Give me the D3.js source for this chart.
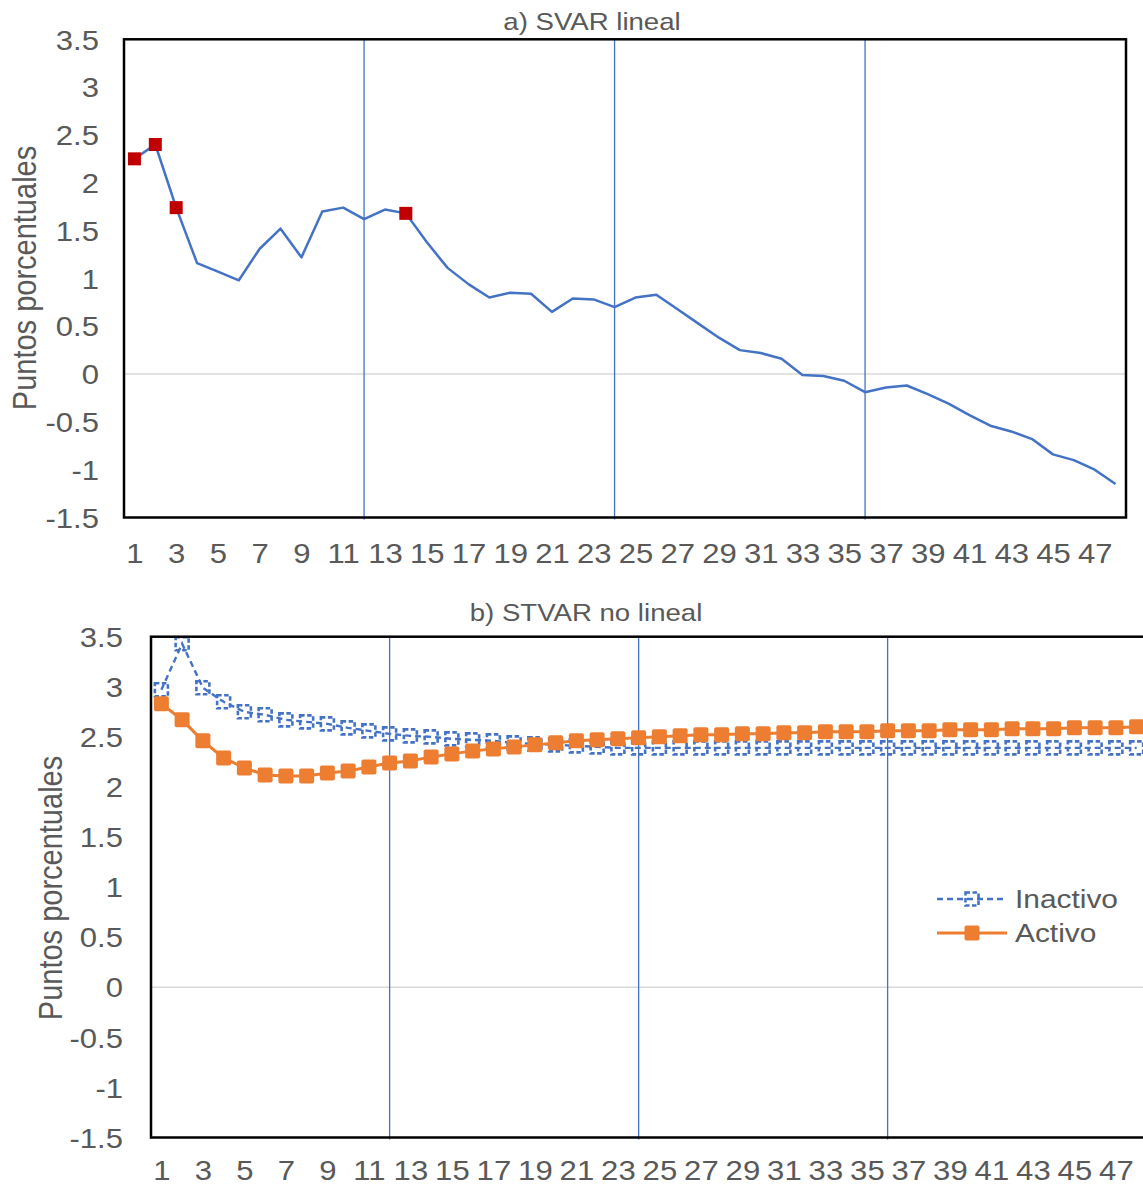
<!DOCTYPE html>
<html><head><meta charset="utf-8">
<script src="https://cdn.jsdelivr.net/npm/d3@7"></script>
<style>body{margin:0;background:#fff}svg{display:block}</style>
</head><body>
<svg id="c" width="1143" height="1186"></svg>
<script>
// ---------- data ----------
const categories = [1,2,3,4,5,6,7,8,9,10,11,12,13,14,15,16,17,18,19,20,21,22,23,24,
  25,26,27,28,29,30,31,32,33,34,35,36,37,38,39,40,41,42,43,44,45,46,47,48];
const xTickLabels = [1,3,5,7,9,11,13,15,17,19,21,23,25,27,29,31,33,35,37,39,41,43,45,47];
const yTickValues = [-1.5,-1,-0.5,0,0.5,1,1.5,2,2.5,3,3.5];
const yTickLabels = ["-1.5","-1","-0.5","0","0.5","1","1.5","2","2.5","3","3.5"];
const markerLines = [12,24,36];

// a) SVAR lineal
const svarLineal = [2.25,2.40,1.74,1.16,1.07,0.98,1.31,1.52,1.22,1.70,1.74,1.62,1.72,1.68,1.38,1.11,
  0.94,0.80,0.85,0.84,0.65,0.79,0.78,0.70,0.80,0.83,0.68,0.53,0.38,0.25,0.22,0.16,
  -0.01,-0.02,-0.07,-0.19,-0.14,-0.12,-0.21,-0.31,-0.43,-0.54,-0.60,-0.68,-0.84,-0.90,-1.00,-1.15];
const svarHighlighted = [1,2,3,14];

// b) STVAR no lineal
const inactivo = [2.97,3.43,2.99,2.85,2.75,2.72,2.67,2.65,2.63,2.59,2.56,2.53,2.51,2.50,2.48,2.47,
  2.46,2.44,2.43,2.42,2.41,2.40,2.39,2.39,2.39,2.39,2.39,2.39,2.39,2.39,2.39,2.39,
  2.39,2.39,2.39,2.39,2.39,2.39,2.39,2.39,2.39,2.39,2.39,2.39,2.39,2.39,2.39,2.39];
const activo = [2.83,2.67,2.46,2.29,2.19,2.12,2.11,2.11,2.14,2.16,2.20,2.24,2.26,2.30,2.33,2.36,
  2.38,2.40,2.42,2.44,2.46,2.47,2.48,2.49,2.50,2.51,2.52,2.52,2.53,2.53,2.54,2.54,
  2.55,2.55,2.55,2.56,2.56,2.56,2.57,2.57,2.57,2.58,2.58,2.58,2.59,2.59,2.59,2.60];
const seriesNames = ["Inactivo","Activo"];

// ---------- styling ----------
const FONT = "'Liberation Sans', Arial, sans-serif";
const TXT = "#595959";
const BLUE = "#4472C4", ORANGE = "#ED7D31", RED = "#C00000";
const SX = 1.15; // horizontal stretch of the original picture

const svg = d3.select("#c");

function panel(cfg) {
  const g = svg.append("g");
  const x = d3.scalePoint().domain(categories).range([cfg.L, cfg.R]).padding(0.5);
  const y = d3.scaleLinear().domain([-1.5, 3.5]).range([cfg.B, cfg.T]);

  g.append("line").attr("x1", cfg.L).attr("x2", cfg.R)
    .attr("y1", y(0)).attr("y2", y(0))
    .attr("stroke", "#d9d9d9").attr("stroke-width", 1.5);

  const ya = g.append("g").attr("transform", `translate(${cfg.L},0)`)
    .call(d3.axisLeft(y).tickValues(yTickValues)
      .tickFormat((d, i) => yTickLabels[i]).tickSize(0));
  ya.select(".domain").remove();
  ya.selectAll("text")
    .attr("x", null).attr("dy", "0.36em")
    .attr("transform", `translate(${-cfg.ypad},0) scale(${SX},1)`)
    .attr("fill", TXT).style("font-family", FONT).style("font-size", "27px");

  const xa = g.append("g").attr("transform", `translate(0,${cfg.B})`)
    .call(d3.axisBottom(x).tickValues(xTickLabels).tickSize(0));
  xa.select(".domain").remove();
  xa.selectAll("text")
    .attr("y", null).attr("dy", "0.36em")
    .attr("transform", `translate(0,${cfg.xpad}) scale(${SX},1)`)
    .attr("fill", TXT).style("font-family", FONT).style("font-size", "27px");

  g.selectAll(".vref").data(markerLines).join("line")
    .attr("x1", d => x(d)).attr("x2", d => x(d))
    .attr("y1", cfg.T).attr("y2", cfg.B + 2)
    .attr("stroke", BLUE).attr("stroke-width", 1.3);

  g.append("text").text(cfg.title)
    .attr("transform", `translate(${cfg.titleX},${cfg.titleY}) scale(${SX},1)`)
    .attr("text-anchor", "middle").attr("fill", TXT)
    .style("font-family", FONT).style("font-size", "24px");

  g.append("text").text("Puntos porcentuales")
    .attr("transform", `translate(${cfg.axTitleX},${cfg.axTitleY}) rotate(-90) scale(1,${SX})`)
    .attr("text-anchor", "middle").attr("dy", "0.36em").attr("fill", TXT)
    .style("font-family", FONT).style("font-size", "29px");

  return {g, x, y};
}

// ---------- panel a ----------
const A = panel({L:124, R:1126, T:39.3, B:517.5, ypad:25, xpad:35.5,
  title:"a) SVAR lineal", titleX:592, titleY:30, axTitleX:24, axTitleY:278});

const lineA = d3.line().x((d, i) => A.x(categories[i])).y(d => A.y(d));
A.g.append("path").datum(svarLineal).attr("d", lineA)
  .attr("fill", "none").attr("stroke", BLUE).attr("stroke-width", 2.5)
  .attr("stroke-linejoin", "round");
const ms = 13;
A.g.selectAll(".redm").data(svarHighlighted).join("rect")
  .attr("x", d => A.x(d) - ms / 2).attr("y", d => A.y(svarLineal[d - 1]) - ms / 2)
  .attr("width", ms).attr("height", ms).attr("fill", RED);
A.g.append("rect").attr("x", 124).attr("y", 39.3).attr("width", 1126 - 124).attr("height", 517.5 - 39.3)
  .attr("fill", "none").attr("stroke", "#000").attr("stroke-width", 2.5);

// ---------- panel b ----------
const Bp = panel({L:151, R:1147, T:636.7, B:1137.5, ypad:28, xpad:32.5,
  title:"b) STVAR no lineal", titleX:586, titleY:621, axTitleX:50, axTitleY:888});

const lineB = d3.line().x((d, i) => Bp.x(categories[i])).y(d => Bp.y(d));
Bp.g.append("path").datum(inactivo).attr("d", lineB)
  .attr("fill", "none").attr("stroke", BLUE).attr("stroke-width", 2.4)
  .attr("stroke-dasharray", "6,4");
const ib = 13;
Bp.g.selectAll(".im").data(inactivo).join("rect")
  .attr("x", (d, i) => Bp.x(categories[i]) - ib / 2).attr("y", d => Bp.y(d) - ib / 2)
  .attr("width", ib).attr("height", ib).attr("fill", "none")
  .attr("stroke", BLUE).attr("stroke-width", 2.6).attr("stroke-dasharray", "4.5,2.5");
Bp.g.append("path").datum(activo).attr("d", lineB)
  .attr("fill", "none").attr("stroke", ORANGE).attr("stroke-width", 3);
const ob = 15;
Bp.g.selectAll(".om").data(activo).join("rect")
  .attr("x", (d, i) => Bp.x(categories[i]) - ob / 2).attr("y", d => Bp.y(d) - ob / 2)
  .attr("width", ob).attr("height", ob).attr("rx", 2).attr("fill", ORANGE);
Bp.g.append("rect").attr("x", 151).attr("y", 636.7).attr("width", 1147 - 151).attr("height", 1137.5 - 636.7)
  .attr("fill", "none").attr("stroke", "#000").attr("stroke-width", 2.5);

// legend
const leg = svg.append("g");
const legY = [899, 933];
seriesNames.forEach((name, i) => {
  const yy = legY[i];
  const isIn = i === 0;
  leg.append("line").attr("x1", 937).attr("x2", 1007).attr("y1", yy).attr("y2", yy)
    .attr("stroke", isIn ? BLUE : ORANGE).attr("stroke-width", isIn ? 2.4 : 3)
    .attr("stroke-dasharray", isIn ? "6,4" : null);
  if (isIn) {
    leg.append("rect").attr("x", 972 - ib / 2).attr("y", yy - ib / 2).attr("width", ib).attr("height", ib)
      .attr("fill", "none").attr("stroke", BLUE).attr("stroke-width", 2.6).attr("stroke-dasharray", "4.5,2.5");
  } else {
    leg.append("rect").attr("x", 972 - ob / 2).attr("y", yy - ob / 2).attr("width", ob).attr("height", ob)
      .attr("rx", 2).attr("fill", ORANGE);
  }
  leg.append("text").text(name)
    .attr("transform", `translate(1015,${yy}) scale(${SX},1)`)
    .attr("dy", "0.36em").attr("fill", TXT)
    .style("font-family", FONT).style("font-size", "26px");
});
</script>
</body></html>
